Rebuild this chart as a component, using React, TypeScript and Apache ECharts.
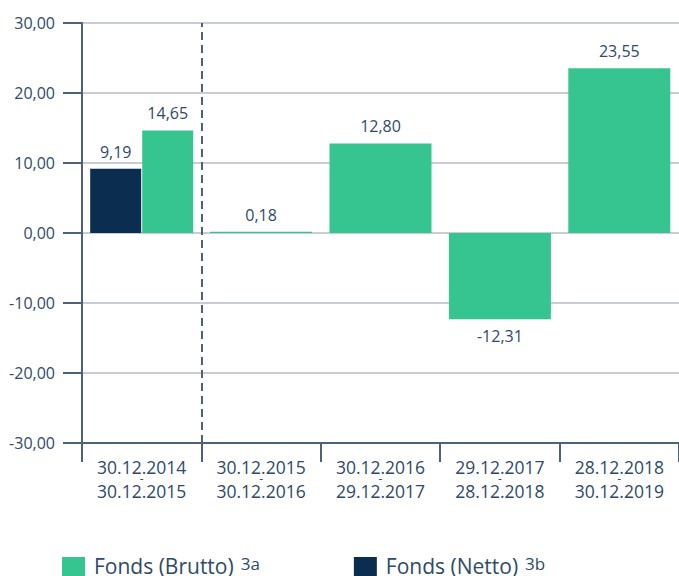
import React, { useEffect, useRef } from "react";
import * as echarts from "echarts";

const categoryStarts = ["30.12.2014", "30.12.2015", "30.12.2016", "29.12.2017", "28.12.2018"];
const categoryEnds = ["30.12.2015", "30.12.2016", "29.12.2017", "28.12.2018", "30.12.2019"];
const bruttoValues = [14.65, 0.18, 12.8, -12.31, 23.55];
const nettoValues: (number | null)[] = [9.19, null, null, null, null];
const seriesNames = ["Fonds (Brutto)", "Fonds (Netto)"];
const seriesNotes = ["3a", "3b"];
const yTicks = { min: -30, max: 30, interval: 10 };
const dividerAfterCategory = 1;

const GREEN = "#36c490";
const NAVY = "#0b2d4f";
const TEXT = "#2f4a68";
const AXIS = "#4d6178";
const GRID = "#c9ced6";
const FONT = "'Open Sans', 'Noto Sans', sans-serif";

const fmt = (v: number) => v.toFixed(2).replace(".", ",");

export default function App() {
  const ref = useRef<HTMLDivElement>(null);
  useEffect(() => {
    if (!ref.current) return;
    const chart = echarts.init(ref.current, undefined, { renderer: "svg" });
    const categories = categoryStarts.map((s, i) => `${s}|${categoryEnds[i]}`);
    const labelCfg = (v: number) => ({
      show: true,
      position: v >= 0 ? "top" : "bottom",
      distance: 9,
      color: TEXT,
      fontSize: 16,
      fontFamily: FONT,
      formatter: (p: any) => fmt(p.value),
    });
    const mk = (vals: (number | null)[]) =>
      vals.map((v) => (v == null ? "-" : { value: v, label: labelCfg(v) }));

    chart.setOption({
      animation: false,
      textStyle: { fontFamily: FONT },
      grid: { left: 82, right: 0, top: 23, bottom: 133, containLabel: false },
      legend: {
        data: seriesNames,
        left: 62,
        top: 555,
        itemWidth: 23,
        itemHeight: 22,
        itemGap: 94,
        icon: "rect",
        padding: 0,
        formatter: (name: string) => `{n|${name}}{s|${seriesNotes[seriesNames.indexOf(name)]}}`,
        textStyle: {
          color: TEXT,
          fontFamily: FONT,
          rich: {
            n: { fontSize: 21, color: TEXT, fontFamily: FONT, lineHeight: 26, padding: [0, 0, 4, 4] },
            s: {
              fontSize: 17,
              color: TEXT,
              fontFamily: FONT,
              lineHeight: 15,
              verticalAlign: "top",
              padding: [0, 0, 0, 7],
            },
          },
        },
      },
      xAxis: [
        {
          type: "category",
          data: categories,
          position: "bottom",
          axisLine: { onZero: false, lineStyle: { color: AXIS, width: 2 } },
          axisTick: { show: true, length: 19, lineStyle: { color: AXIS, width: 2 } },
          axisLabel: {
            margin: 13,
            interval: 0,
            formatter: (v: string) => {
              const [a, b] = v.split("|");
              return `{a1|${a}}\n{d|-}\n{a2|${b}}`;
            },
            rich: {
              a1: { fontSize: 17.5, color: TEXT, fontFamily: FONT, lineHeight: 22 },
              d: { fontSize: 12, color: TEXT, fontFamily: FONT, lineHeight: 1 },
              a2: { fontSize: 17.5, color: TEXT, fontFamily: FONT, lineHeight: 24 },
            },
          },
        },
        {
          type: "category",
          data: categories,
          position: "bottom",
          show: false,
        },
        {
          type: "value",
          min: 0,
          max: categories.length,
          show: false,
        },
      ],
      yAxis: {
        type: "value",
        min: yTicks.min,
        max: yTicks.max,
        interval: yTicks.interval,
        axisLine: { show: true, lineStyle: { color: AXIS, width: 2 } },
        axisTick: { show: true, length: 19, lineStyle: { color: AXIS, width: 2 } },
        splitLine: { show: true, lineStyle: { color: GRID, width: 2 } },
        axisLabel: {
          margin: 27,
          color: TEXT,
          fontSize: 16,
          fontFamily: FONT,
          formatter: (v: number) => fmt(v),
        },
      },
      series: [
        {
          name: seriesNames[1],
          type: "bar",
          xAxisIndex: 0,
          barWidth: 51,
          barGap: "2%",
          itemStyle: { color: NAVY },
          data: mk(nettoValues),
        },
        {
          name: seriesNames[0],
          type: "bar",
          xAxisIndex: 0,
          barWidth: 51,
          barGap: "2%",
          itemStyle: { color: GREEN },
          data: mk(bruttoValues.map((v, i) => (nettoValues[i] != null ? v : null))),
        },
        {
          name: seriesNames[0],
          type: "bar",
          xAxisIndex: 1,
          barWidth: 102,
          itemStyle: { color: GREEN },
          data: mk(bruttoValues.map((v, i) => (nettoValues[i] == null ? v : null))),
        },
        {
          name: "divider",
          type: "line",
          xAxisIndex: 2,
          data: [],
          silent: true,
          markLine: {
            silent: true,
            symbol: "none",
            label: { show: false },
            lineStyle: { color: AXIS, width: 2, type: [8, 5] },
            data: [{ xAxis: dividerAfterCategory }],
          },
        },
      ],
    });
    return () => chart.dispose();
  }, []);
  return (
    <div
      ref={ref}
      style={{ position: "fixed", left: 0, top: 0, width: 679, height: 576, background: "#fff" }}
    />
  );
}
